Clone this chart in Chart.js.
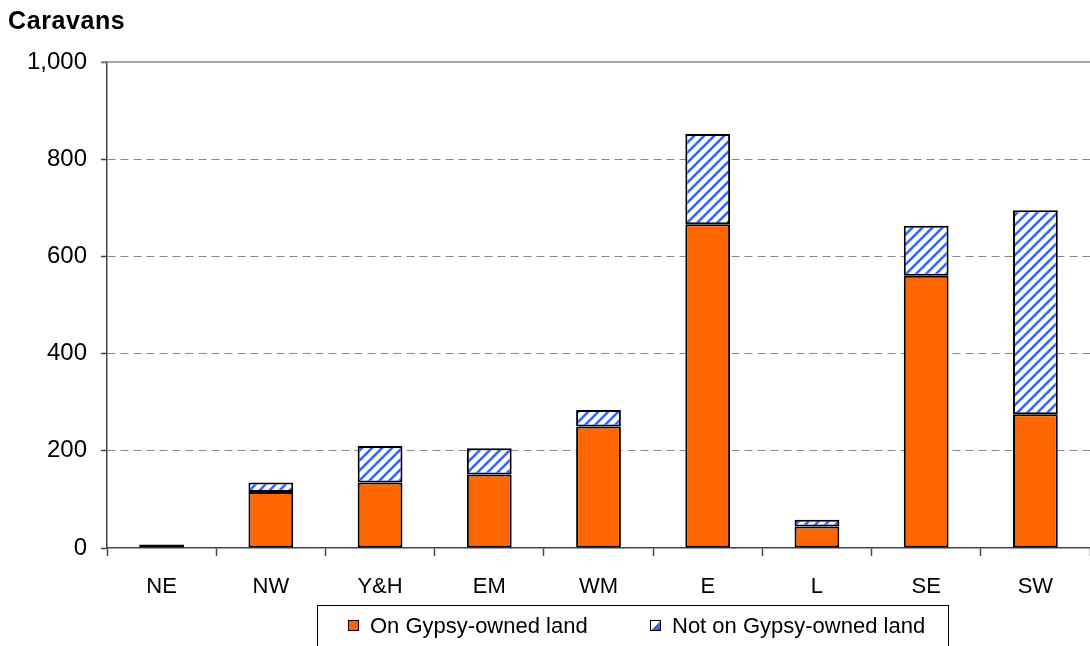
<!DOCTYPE html>
<html>
<head>
<meta charset="utf-8">
<script src="https://cdn.jsdelivr.net/npm/chart.js@4.4.0/dist/chart.umd.min.js"></script>
<style>
    body { margin: 0; background: #fff; }
    #wrap { position: relative; width: 1090px; height: 646px; overflow: hidden; font-family: Arial, "Liberation Sans", sans-serif; }
    #title { position: absolute; left: 8px; top: 8px; font-size: 25px; line-height: 25px; font-weight: bold; letter-spacing: 0.6px; color: #000; }
    #legend { position: absolute; left: 317px; top: 605px; width: 632px; height: 60px; border: 1px solid #000; box-sizing: border-box; }
    .sw { position: absolute; width: 9px; height: 9px; border: 1px solid #000; }
    .lt { position: absolute; font-size: 22px; line-height: 22px; color: #000; white-space: nowrap; }
</style>
</head>
<body>
<div id="wrap">
    <canvas id="chart" width="1090" height="646"></canvas>
    <div id="title">Caravans</div>
    <div id="legend">
        <div class="sw" style="left:30px; top:14px; background:#ff6600;"></div>
        <div class="lt" style="left:52px; top:9px;">On Gypsy-owned land</div>
        <div class="sw" style="left:332px; top:14px; background:linear-gradient(-45deg, #3366ff 0 45%, #fff 45% 100%);"></div>
        <div class="lt" style="left:354px; top:9px;">Not on Gypsy-owned land</div>
    </div>
</div>
<script>
    // regions and caravan counts
    const regions = ['NE', 'NW', 'Y&H', 'EM', 'WM', 'E', 'L', 'SE', 'SW'];
    const onGypsyLand = [0, 115, 135, 151, 250, 666, 44, 560, 275];
    const notOnGypsyLand = [7, 20, 75, 54, 34, 186, 14, 103, 420];
    const yTicks = [0, 200, 400, 600, 800, 1000];

    // diagonal blue hatch
    function makeHatch() {
        const c = document.createElement('canvas');
        c.width = 10;
        c.height = 10;
        const g = c.getContext('2d');
        g.fillStyle = '#ffffff';
        g.fillRect(0, 0, 10, 10);
        g.strokeStyle = '#3366ff';
        g.lineWidth = 2.6;
        g.beginPath();
        g.moveTo(-5, 5); g.lineTo(5, -5);
        g.moveTo(0, 10); g.lineTo(10, 0);
        g.moveTo(5, 15); g.lineTo(15, 5);
        g.stroke();
        return g.createPattern(c, 'repeat');
    }

    const ctx = document.getElementById('chart').getContext('2d');
    const hatch = makeHatch();

    // solid line at the top of the plot
    const topLine = {
        id: 'topLine',
        afterDraw(chart) {
            const a = chart.chartArea;
            const c = chart.ctx;
            c.save();
            c.strokeStyle = '#888';
            c.lineWidth = 1.5;
            c.beginPath();
            c.moveTo(a.left - 6, a.top);
            c.lineTo(a.right, a.top);
            c.stroke();
            c.restore();
        }
    };

    new Chart(ctx, {
        type: 'bar',
        data: {
            labels: regions,
            datasets: [{
                label: 'On Gypsy-owned land',
                data: onGypsyLand,
                backgroundColor: '#ff6600',
                borderColor: '#000',
                borderWidth: 2,
                borderSkipped: false
            }, {
                label: 'Not on Gypsy-owned land',
                data: notOnGypsyLand,
                backgroundColor: hatch,
                borderColor: '#000',
                borderWidth: 2,
                borderSkipped: false
            }]
        },
        options: {
            responsive: false,
            devicePixelRatio: 1,
            animation: false,
            layout: { padding: { top: 62, right: 0, left: 0, bottom: 0 } },
            plugins: {
                legend: { display: false },
                tooltip: { enabled: false }
            },
            datasets: {
                bar: { barPercentage: 0.41, categoryPercentage: 1 }
            },
            scales: {
                x: {
                    stacked: true,
                    afterFit: (s) => { s.height = 98; },
                    grid: {
                        offset: true,
                        drawOnChartArea: false,
                        tickLength: 8,
                        tickColor: '#444',
                        tickWidth: 1.5
                    },
                    border: { color: '#444', width: 1.5 },
                    ticks: {
                        color: '#000',
                        padding: 18,
                        font: { family: 'Arial, "Liberation Sans"', size: 22 }
                    }
                },
                y: {
                    stacked: true,
                    min: 0,
                    max: 1000,
                    afterFit: (s) => { s.width = 107; },
                    afterBuildTicks: (s) => { s.ticks = yTicks.map(v => ({ value: v })); },
                    grid: {
                        color: (c) => (c.tick && (c.tick.value === 0 || c.tick.value === 1000)) ? 'rgba(0,0,0,0)' : '#888',
                        lineWidth: 1,
                        tickLength: 6,
                        tickColor: '#444',
                        tickWidth: 1.5,
                        tickBorderDash: []
                    },
                    border: { color: '#444', width: 1.5, dash: [8, 5] },
                    ticks: {
                        color: '#000',
                        padding: 14,
                        font: { family: 'Arial, "Liberation Sans"', size: 24 },
                        callback: (v) => v.toLocaleString('en-US')
                    }
                }
            }
        },
        plugins: [topLine]
    });
</script>
</body>
</html>
